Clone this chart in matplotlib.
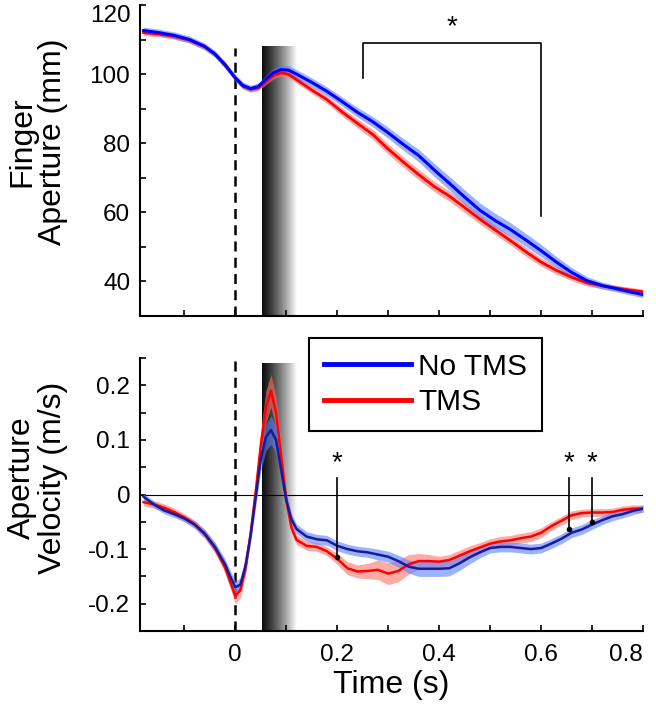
import numpy as np
import matplotlib
matplotlib.use("Agg")
import matplotlib.pyplot as plt

plt.rcParams['font.family'] = ['Liberation Sans', 'DejaVu Sans']

# finger aperture (mm)
t_ap = [-0.18, -0.15, -0.12, -0.09, -0.06, -0.04, -0.02, 0.0, 0.015, 0.03, 0.045, 0.06,
        0.075, 0.09, 0.105, 0.12, 0.15, 0.18, 0.21, 0.24, 0.27, 0.30, 0.33, 0.36, 0.39,
        0.42, 0.45, 0.48, 0.51, 0.54, 0.57, 0.60, 0.63, 0.66, 0.69, 0.72, 0.75, 0.78, 0.80]
ap_notms = [112.6, 112.0, 111.2, 110.0, 108.0, 105.8, 102.6, 98.9, 96.7, 95.8, 96.4, 98.5,
            100.4, 101.3, 101.1, 100.0, 97.6, 95.0, 92.0, 88.9, 86.2, 83.0, 79.6, 76.4, 72.3,
            68.4, 64.4, 60.6, 57.6, 55.0, 52.0, 48.9, 45.6, 42.6, 40.2, 38.8, 37.8, 36.8, 36.2]
ap_notms_err = [1.0, 1.0, 1.0, 1.0, 1.0, 1.0, 1.0, 1.0, 1.0, 1.0, 1.0, 1.1,
                1.2, 1.3, 1.3, 1.3, 1.3, 1.3, 1.3, 1.4, 1.5, 1.6, 1.7, 1.8, 1.9,
                2.0, 2.1, 2.1, 2.1, 2.0, 1.9, 1.8, 1.6, 1.4, 1.2, 1.0, 0.9, 0.9, 0.9]
ap_tms = [112.0, 111.6, 110.9, 109.8, 107.9, 105.8, 102.8, 98.9, 96.5, 95.6, 96.0, 97.8,
          99.6, 100.4, 99.9, 98.4, 95.4, 92.6, 89.0, 85.7, 82.5, 78.3, 74.5, 70.9, 67.5,
          64.7, 61.4, 58.0, 54.9, 51.8, 48.6, 45.6, 43.2, 41.2, 39.6, 38.7, 38.0, 37.4, 37.0]
ap_tms_err = [0.8, 0.8, 0.8, 0.8, 0.8, 0.8, 0.8, 0.8, 0.8, 0.8, 0.8, 0.9,
              1.0, 1.0, 1.0, 1.0, 1.0, 1.1, 1.2, 1.3, 1.4, 1.5, 1.5, 1.5, 1.5,
              1.5, 1.5, 1.4, 1.4, 1.3, 1.3, 1.2, 1.1, 1.0, 0.9, 0.8, 0.8, 0.8, 0.8]

# aperture velocity (m/s)
t_vel = [-0.18, -0.16, -0.14, -0.12, -0.10, -0.08, -0.06, -0.04, -0.02, -0.01, 0.0, 0.01,
         0.02, 0.03, 0.04, 0.05, 0.06, 0.07, 0.08, 0.09, 0.10, 0.11, 0.12, 0.14, 0.16,
         0.18, 0.20, 0.22, 0.24, 0.26, 0.28, 0.30, 0.32, 0.34, 0.36, 0.38, 0.40, 0.42,
         0.44, 0.46, 0.48, 0.50, 0.52, 0.54, 0.56, 0.58, 0.60, 0.62, 0.64, 0.66, 0.68,
         0.70, 0.72, 0.74, 0.76, 0.78, 0.80]
vel_notms = [-0.004, -0.018, -0.029, -0.036, -0.044, -0.055, -0.072, -0.096, -0.128, -0.150,
             -0.170, -0.165, -0.130, -0.075, -0.005, 0.065, 0.105, 0.118, 0.100, 0.045,
             -0.010, -0.045, -0.063, -0.077, -0.082, -0.084, -0.094, -0.100, -0.104, -0.106,
             -0.110, -0.114, -0.122, -0.132, -0.136, -0.136, -0.136, -0.135, -0.126, -0.115,
             -0.106, -0.098, -0.096, -0.096, -0.098, -0.100, -0.098, -0.090, -0.081, -0.070,
             -0.064, -0.055, -0.047, -0.040, -0.036, -0.030, -0.026]
vel_notms_err = [0.006, 0.006, 0.006, 0.006, 0.006, 0.007, 0.008, 0.009, 0.010, 0.011,
                 0.012, 0.012, 0.012, 0.014, 0.018, 0.022, 0.025, 0.026, 0.025, 0.020,
                 0.014, 0.010, 0.009, 0.009, 0.009, 0.009, 0.009, 0.009, 0.009, 0.009,
                 0.010, 0.010, 0.011, 0.012, 0.014, 0.014, 0.014, 0.014, 0.013, 0.012,
                 0.010, 0.009, 0.009, 0.009, 0.009, 0.009, 0.009, 0.009, 0.009, 0.009,
                 0.009, 0.009, 0.008, 0.008, 0.007, 0.007, 0.006]
vel_tms = [-0.014, -0.018, -0.024, -0.032, -0.042, -0.054, -0.072, -0.098, -0.134, -0.160,
           -0.186, -0.175, -0.135, -0.072, 0.005, 0.090, 0.160, 0.190, 0.150, 0.070,
           -0.010, -0.060, -0.083, -0.094, -0.096, -0.104, -0.118, -0.135, -0.141, -0.140,
           -0.138, -0.145, -0.140, -0.128, -0.122, -0.122, -0.123, -0.120, -0.112, -0.104,
           -0.097, -0.090, -0.086, -0.084, -0.080, -0.077, -0.070, -0.058, -0.048, -0.038,
           -0.034, -0.033, -0.033, -0.032, -0.028, -0.026, -0.026]
vel_tms_err = [0.007, 0.007, 0.007, 0.007, 0.007, 0.007, 0.008, 0.009, 0.010, 0.012,
               0.014, 0.014, 0.014, 0.016, 0.020, 0.026, 0.030, 0.030, 0.028, 0.022,
               0.014, 0.010, 0.009, 0.008, 0.008, 0.008, 0.010, 0.012, 0.012, 0.014,
               0.018, 0.020, 0.020, 0.018, 0.014, 0.012, 0.010, 0.010, 0.010, 0.010,
               0.009, 0.009, 0.009, 0.009, 0.009, 0.009, 0.009, 0.008, 0.008, 0.008,
               0.007, 0.007, 0.007, 0.007, 0.007, 0.007, 0.007]

sig_bracket = [0.25, 0.60]
sig_vel_t = [0.20, 0.655, 0.70]
sig_vel_y = [-0.115, -0.064, -0.05]

tms_window = [0.052, 0.12]

blue = (0, 0, 1)
red = (1, 0, 0)
blue_band = (0.35, 0.5, 1.0)
red_band = (1.0, 0.45, 0.4)

fig = plt.figure(figsize=(6.56, 7.11), dpi=100)
ax1 = fig.add_axes([0.2134, 0.5556, 0.7668, 0.4374])
ax2 = fig.add_axes([0.2134, 0.1125, 0.7668, 0.3840])

xlim = (-0.187, 0.8)
grad = np.linspace(0.1, 1.0, 256) ** 1.3
grad = grad.reshape(1, -1)


def style(ax):
    for s in ['top', 'right']:
        ax.spines[s].set_visible(False)
    for s in ['left', 'bottom']:
        ax.spines[s].set_linewidth(1.5)
    ax.tick_params(direction='in', length=4, width=1.2, labelsize=17.5)
    ax.tick_params(axis='y', pad=7)
    ax.tick_params(axis='x', pad=9)
    ax.set_xlim(*xlim)
    ax.set_xticks(np.arange(-0.1, 0.81, 0.1))


# top panel
ax1.imshow(grad, cmap='gray', vmin=0, vmax=1, aspect='auto',
           extent=[tms_window[0], tms_window[1], 30, 108], zorder=1)
ax1.plot([0, 0], [30, 107.5], color='k', lw=1.8, ls=(0, (4, 2.5)), zorder=2)
ax1.fill_between(t_ap, np.array(ap_tms) - ap_tms_err, np.array(ap_tms) + ap_tms_err,
                 color=red_band, alpha=0.6, lw=0, zorder=3)
ax1.fill_between(t_ap, np.array(ap_notms) - ap_notms_err, np.array(ap_notms) + ap_notms_err,
                 color=blue_band, alpha=0.6, lw=0, zorder=3)
ax1.plot(t_ap, ap_tms, color=red, lw=2, zorder=4)
ax1.plot(t_ap, ap_notms, color=blue, lw=2.2, zorder=5)
ax1.plot([sig_bracket[0], sig_bracket[0], sig_bracket[1], sig_bracket[1]],
         [99, 109, 109, 59], color='k', lw=1.2, zorder=6)
ax1.text(np.mean(sig_bracket), 109.8, '*', fontsize=20, ha='center', va='bottom')
style(ax1)
ax1.set_ylim(30, 120)
ax1.set_yticks(np.arange(30, 121, 10))
ax1.set_yticklabels(['' if v % 20 else str(v) for v in range(30, 121, 10)])
ax1.get_yticklabels()[-1].set_va('top')
ax1.set_xticklabels([])
ax1.set_ylabel('Finger\nAperture (mm)', fontsize=23, linespacing=1.05)
ax1.yaxis.set_label_coords(-0.143, 0.56)

# bottom panel
ax2.imshow(grad, cmap='gray', vmin=0, vmax=1, aspect='auto',
           extent=[tms_window[0], tms_window[1], -0.25, 0.24], zorder=1)
ax2.plot([0, 0], [-0.25, 0.25], color='k', lw=1.8, ls=(0, (4, 2.5)), zorder=2)
ax2.axhline(0, color='k', lw=0.8, zorder=2)
ax2.fill_between(t_vel, np.array(vel_tms) - vel_tms_err, np.array(vel_tms) + vel_tms_err,
                 color=red_band, alpha=0.6, lw=0, zorder=3)
ax2.fill_between(t_vel, np.array(vel_notms) - vel_notms_err, np.array(vel_notms) + vel_notms_err,
                 color=blue_band, alpha=0.6, lw=0, zorder=3)
ax2.plot(t_vel, vel_tms, color=red, lw=1.8, zorder=4)
ax2.plot(t_vel, vel_notms, color=(0.1, 0.1, 0.6), lw=1.8, zorder=5)
for x, y in zip(sig_vel_t, sig_vel_y):
    ax2.plot([x, x], [0.03, y], color='k', lw=1.2, zorder=6)
    ax2.plot(x, y, 'o', color='k', ms=3, zorder=6)
    ax2.text(x, 0.033, '*', fontsize=20, ha='center', va='bottom')
style(ax2)
ax2.set_ylim(-0.25, 0.25)
yt = np.round(np.arange(-0.25, 0.251, 0.05), 2)
ax2.set_yticks(yt)
ax2.set_yticklabels([('0' if v == 0 else f'{v:g}') if abs(round(v * 100)) % 10 == 0 else '' for v in yt])
xt = np.round(np.arange(-0.1, 0.81, 0.1), 1)
ax2.set_xticklabels([('0' if v == 0 else f'{v:g}') if abs(round(v * 10)) % 2 == 0 else '' for v in xt])
ax2.get_xticklabels()[-1].set_ha('right')
ax2.set_xlabel('Time (s)', fontsize=23, labelpad=3)
ax2.set_ylabel('Aperture\nVelocity (m/s)', fontsize=23, linespacing=1.05)
ax2.yaxis.set_label_coords(-0.143, 0.56)

h1, = ax2.plot([], [], color=blue, lw=3.5)
h2, = ax2.plot([], [], color=red, lw=3.5)
leg = fig.legend([h1, h2], ['No TMS', 'TMS'], loc='upper left',
                 bbox_to_anchor=(309 / 656, 1 - 338 / 711), borderaxespad=0, fontsize=21.5,
                 handlelength=2.9, handletextpad=0.25, borderpad=0.5,
                 labelspacing=0.25, fancybox=False, framealpha=1, edgecolor='k')
leg.get_frame().set_linewidth(1.5)

fig.savefig('out.png', dpi=100)
